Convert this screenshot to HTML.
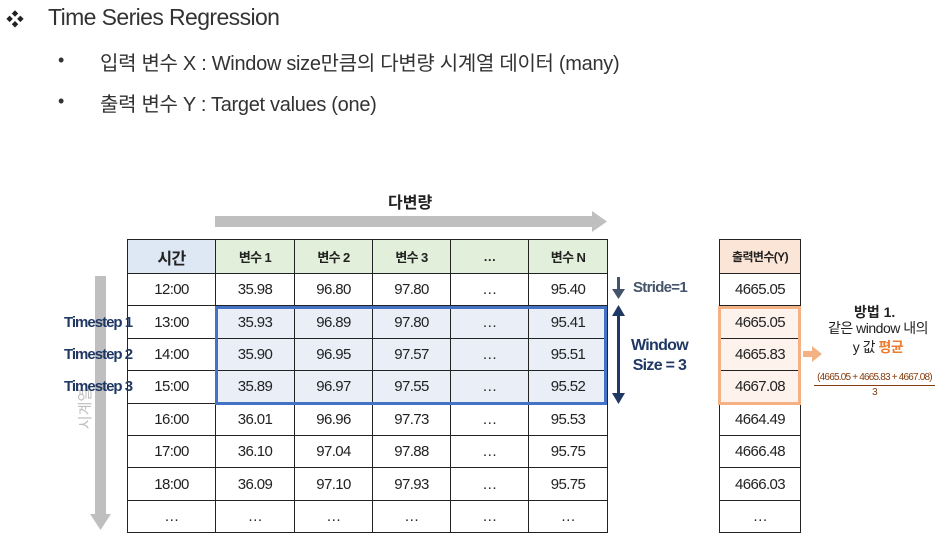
<!DOCTYPE html>
<html><head><meta charset="utf-8">
<style>
body{margin:0;width:942px;height:546px;background:#fff;position:relative;overflow:hidden;font-family:"Liberation Sans","Noto Sans CJK KR",sans-serif;color:#222}
.a{position:absolute;white-space:nowrap}
.cell{position:absolute;box-sizing:border-box;border:1px solid #222;display:flex;align-items:center;justify-content:center;font-size:15px;letter-spacing:-0.6px}
.hd{font-weight:bold;font-size:13px}
.ts{color:#1f3864;font-weight:bold;font-size:15px;letter-spacing:-1px}
</style></head><body>
<div class="a" style="left:6px;top:6px;font-size:18px">❖</div>
<div class="a" style="left:48px;top:4px;font-size:23px;letter-spacing:-0.6px;color:#333">Time Series Regression</div>
<div class="a" style="left:58px;top:50px;font-size:18px;color:#333">•</div>
<div class="a" style="left:100px;top:47px;font-size:20px;letter-spacing:-0.3px;color:#333">입력 변수 X : Window size만큼의 다변량 시계열 데이터 (many)</div>
<div class="a" style="left:58px;top:91px;font-size:18px;color:#333">•</div>
<div class="a" style="left:100px;top:88px;font-size:20px;letter-spacing:-0.3px;color:#333">출력 변수 Y : Target values (one)</div>

<div class="a" style="left:388px;top:189px;font-size:16px;font-weight:bold">다변량</div>
<svg class="a" style="left:0;top:0" width="942" height="546">
<rect x="215" y="216" width="378" height="11" fill="#bfbfbf"/>
<polygon points="592,211 607,221.5 592,232" fill="#bfbfbf"/>
<rect x="95" y="276" width="11" height="240" fill="#bfbfbf"/>
<polygon points="90,514 111,514 100.5,530" fill="#bfbfbf"/>
<rect x="617" y="277" width="3" height="14" fill="#44546a"/>
<polygon points="612,289 625,289 618.5,299" fill="#44546a"/>
<rect x="617" y="314" width="3" height="82" fill="#1f3864"/>
<polygon points="612,316 625,316 618.5,305" fill="#1f3864"/>
<polygon points="612,393 625,393 618.5,404" fill="#1f3864"/>
<rect x="803" y="351" width="10" height="6" fill="#f4b183"/>
<polygon points="812,346 822,354 812,362" fill="#f4b183"/>
</svg>
<div class="a" style="left:64px;top:398px;font-size:15px;color:#bfbfbf;transform:rotate(-90deg);transform-origin:center">시계열</div>

<div id="tbl"></div>
<svg class="a" style="left:0;top:0" width="942" height="546">
<rect x="216.5" y="307.5" width="389" height="96" fill="none" stroke="#4472c4" stroke-width="3"/>
<rect x="719.5" y="307.5" width="80" height="96" fill="none" stroke="#f4b183" stroke-width="3"/>
</svg>
<div class="a ts" style="left:64px;top:314px">Timestep 1</div>
<div class="a ts" style="left:64px;top:346px">Timestep 2</div>
<div class="a ts" style="left:64px;top:378px">Timestep 3</div>
<div class="a" style="left:633px;top:279px;font-size:15px;font-weight:bold;color:#44546a;letter-spacing:-0.7px">Stride=1</div>
<div class="a" style="left:631px;top:336px;font-size:16px;font-weight:bold;color:#1f3864;letter-spacing:-0.7px;text-align:center;line-height:20px">Window<br>Size = 3</div>
<div class="a" style="left:854px;top:302px;font-size:14px;font-weight:bold">방법 1.</div>
<div class="a" style="left:818px;top:319px;font-size:14px;letter-spacing:-0.5px;text-align:center;line-height:19px;width:120px">같은 window 내의<br>y 값 <b style="color:#ed7d31">평균</b></div>
<div class="a" style="left:814px;top:371px;font-size:10px;color:#843c0c;letter-spacing:-0.8px;text-align:center;width:121px;line-height:13px"><div style="border-bottom:1px solid #843c0c;padding-bottom:1px">(4665.05 + 4665.83 + 4667.08)</div>3</div>

<script>
const headers=['시간','변수 1','변수 2','변수 3','…','변수 N'];
const times=['12:00','13:00','14:00','15:00','16:00','17:00','18:00','…'];
const var1=['35.98','35.93','35.90','35.89','36.01','36.10','36.09','…'];
const var2=['96.80','96.89','96.95','96.97','96.96','97.04','97.10','…'];
const var3=['97.80','97.80','97.57','97.55','97.73','97.88','97.93','…'];
const varDots=['…','…','…','…','…','…','…','…'];
const varN=['95.40','95.41','95.51','95.52','95.53','95.75','95.75','…'];
const outputs=['4665.05','4665.05','4665.83','4667.08','4664.49','4666.48','4666.03','…'];
const xs=[127,215,294,372,450,528,607];
const hTop=239,hH=34,rH=32.4;
const tbl=document.getElementById('tbl');
function cell(x,y,w,h,txt,bg,name,cls,fs){
  const d=document.createElement('div');
  d.className='cell'+(cls?' '+cls:'');
  d.style.cssText=`left:${x}px;top:${y}px;width:${w+1}px;height:${h+1}px;background:${bg}`+(fs?`;font-size:${fs}px`:'');
  d.textContent=txt;
  
  
  tbl.appendChild(d);
}
headers.forEach((h,i)=>cell(xs[i],hTop,xs[i+1]-xs[i],hH,h,i==0?'#dde8f4':'#e2efda','header-'+i,'hd',i==0?16:13));
const cols=[times,var1,var2,var3,varDots,varN];
cols.forEach((col,c)=>col.forEach((v,r)=>{
  const inWin=c>0&&r>=1&&r<=3;
  cell(xs[c],hTop+hH+r*rH,xs[c+1]-xs[c],rH,v,inWin?'#e9eef7':'#fff','cell-'+c+'-'+r);
}));
cell(719,hTop,81,hH,'출력변수(Y)','#fbe5d6','output-header','hd',12);
outputs.forEach((v,r)=>cell(719,hTop+hH+r*rH,81,rH,v,(r>=1&&r<=3)?'#fdf3ec':'#fff','output-'+r));
</script>
</body></html>
